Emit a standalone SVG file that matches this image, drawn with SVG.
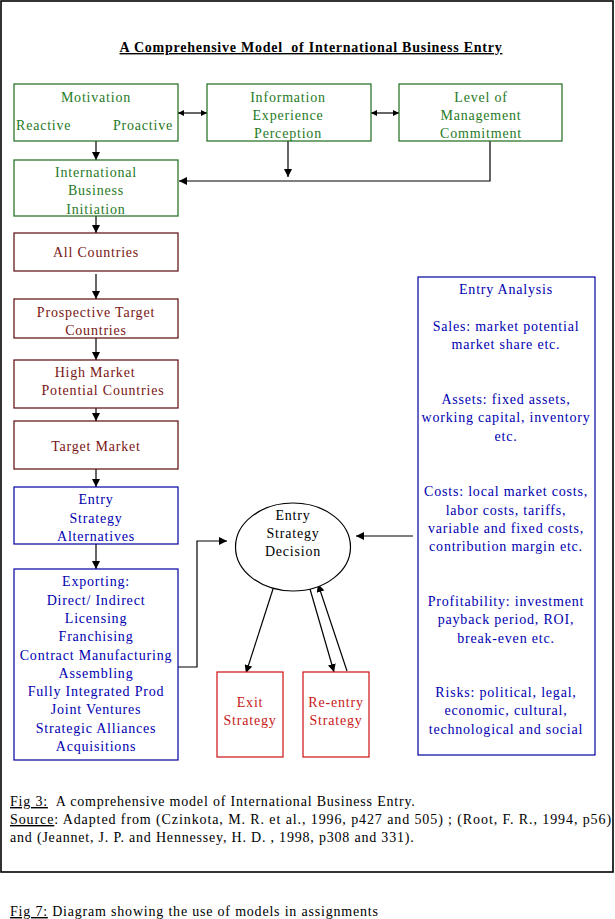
<svg xmlns="http://www.w3.org/2000/svg" width="615" height="919" viewBox="0 0 615 919">
<style>
text{font-family:"Liberation Serif","Times New Roman",serif;font-size:14px;text-anchor:middle;letter-spacing:0.8px}
.g rect{fill:#fff;stroke:#1c6b1c;stroke-width:1.2}
.g text{fill:#1f7a1f}
.r rect{fill:#fff;stroke:#5a0a0a;stroke-width:1.2}
.r text{fill:#7a1414}
.b rect{fill:#fff;stroke:#0000a0;stroke-width:1.2}
.b text{fill:#0000b0}
.x rect{fill:#fff;stroke:#cc1010;stroke-width:1.2}
.x text{fill:#c81818}
.k text{fill:#000}
#connectors line,#connectors polyline{stroke:#000;stroke-width:1.2;fill:none}
.l{text-anchor:start;fill:#000}
</style>
<defs>
<marker id="ah" viewBox="0 0 10 10" refX="10" refY="5" markerWidth="8" markerHeight="8" markerUnits="userSpaceOnUse" orient="auto-start-reverse">
<path d="M0,0 L10,5 L0,10 z" fill="#000"/>
</marker>
<marker id="as" viewBox="0 0 10 10" refX="10" refY="5" markerWidth="7" markerHeight="6" markerUnits="userSpaceOnUse" orient="auto-start-reverse">
<path d="M0,0 L10,5 L0,10 z" fill="#000"/>
</marker>
</defs>
<rect x="0" y="0" width="615" height="919" fill="#fff"/>
<rect id="frame" x="1" y="1" width="612" height="871" fill="none" stroke="#000" stroke-width="1.6"/>
<text x="311" y="52" font-weight="bold" text-decoration="underline" xml:space="preserve" style="letter-spacing:0.75px">A Comprehensive Model  of International Business Entry</text>

<g id="connectors">
<line x1="178" y1="113" x2="207" y2="113" marker-start="url(#as)" marker-end="url(#as)"/>
<line x1="371" y1="113" x2="399" y2="113" marker-start="url(#as)" marker-end="url(#as)"/>
<line x1="96" y1="141" x2="96" y2="160" marker-end="url(#ah)"/>
<line x1="288" y1="141" x2="288" y2="177" marker-end="url(#ah)"/>
<polyline points="490,141 490,181 179,181" marker-end="url(#ah)"/>
<line x1="96" y1="216" x2="96" y2="233" marker-end="url(#ah)"/>
<line x1="96" y1="274" x2="96" y2="299" marker-end="url(#ah)"/>
<line x1="96" y1="338" x2="96" y2="360" marker-end="url(#ah)"/>
<line x1="96" y1="408" x2="96" y2="421" marker-end="url(#ah)"/>
<line x1="96" y1="469" x2="96" y2="487" marker-end="url(#ah)"/>
<line x1="96" y1="544" x2="96" y2="569" marker-end="url(#ah)"/>
<polyline points="178,667 197,667 197,541 227,541" marker-end="url(#ah)"/>
<line x1="413" y1="536" x2="356" y2="536" marker-end="url(#ah)"/>
<line x1="273" y1="589" x2="246" y2="673" marker-end="url(#ah)"/>
<line x1="310" y1="589" x2="334" y2="672" marker-end="url(#ah)"/>
<line x1="347" y1="671" x2="318" y2="584" marker-end="url(#ah)"/>
</g>

<g id="motivation" class="g">
<rect x="14" y="84" width="164" height="57"/>
<text x="96" y="102">Motivation</text>
<text x="16" y="130" style="text-anchor:start">Reactive</text>
<text x="173" y="130" style="text-anchor:end">Proactive</text>
</g>
<g id="information" class="g">
<rect x="207" y="84" width="164" height="57"/>
<text x="288" y="102">Information</text>
<text x="288" y="120">Experience</text>
<text x="288" y="138">Perception</text>
</g>
<g id="commitment" class="g">
<rect x="399" y="84" width="163" height="57"/>
<text x="481" y="102">Level of</text>
<text x="481" y="120">Management</text>
<text x="481" y="138">Commitment</text>
</g>
<g id="initiation" class="g">
<rect x="14" y="160" width="164" height="56"/>
<text x="96" y="177">International</text>
<text x="96" y="195">Business</text>
<text x="96" y="214">Initiation</text>
</g>
<g id="allcountries" class="r">
<rect x="14" y="233" width="164" height="38"/>
<text x="96" y="257">All Countries</text>
</g>
<g id="prospective" class="r">
<rect x="14" y="299" width="164" height="39"/>
<text x="96" y="317">Prospective Target</text>
<text x="96" y="335">Countries</text>
</g>
<g id="highmarket" class="r">
<rect x="14" y="360" width="164" height="48"/>
<text x="95" y="377">High Market</text>
<text x="103" y="395">Potential Countries</text>
</g>
<g id="targetmarket" class="r">
<rect x="14" y="421" width="164" height="48"/>
<text x="96" y="451">Target Market</text>
</g>
<g id="alternatives" class="b">
<rect x="14" y="487" width="164" height="57"/>
<text x="96" y="504">Entry</text>
<text x="96" y="523">Strategy</text>
<text x="96" y="541">Alternatives</text>
</g>
<g id="modes" class="b">
<rect x="14" y="569" width="164" height="191"/>
<text x="96" y="586">Exporting:</text>
<text x="96" y="605">Direct/ Indirect</text>
<text x="96" y="623">Licensing</text>
<text x="96" y="641">Franchising</text>
<text x="96" y="660">Contract Manufacturing</text>
<text x="96" y="678">Assembling</text>
<text x="96" y="696">Fully Integrated Prod</text>
<text x="96" y="714">Joint Ventures</text>
<text x="96" y="733">Strategic Alliances</text>
<text x="96" y="751">Acquisitions</text>
</g>
<g id="decision" class="k">
<ellipse cx="293" cy="547" rx="57.5" ry="44" fill="#fff" stroke="#000" stroke-width="1.2"/>
<text x="293" y="520">Entry</text>
<text x="293" y="538">Strategy</text>
<text x="293" y="556">Decision</text>
</g>
<g id="exit" class="x">
<rect x="217" y="672" width="66" height="85"/>
<text x="250" y="707">Exit</text>
<text x="250" y="725">Strategy</text>
</g>
<g id="reentry" class="x">
<rect x="303" y="672" width="66" height="85"/>
<text x="336" y="707">Re-entry</text>
<text x="336" y="725">Strategy</text>
</g>
<g id="analysis" class="b">
<rect x="418" y="277" width="177" height="478"/>
<text x="506" y="294">Entry Analysis</text>
<text x="506" y="331">Sales: market potential</text>
<text x="506" y="349">market share etc.</text>
<text x="506" y="404">Assets: fixed assets,</text>
<text x="506" y="422">working capital, inventory</text>
<text x="506" y="441">etc.</text>
<text x="506" y="496">Costs: local market costs,</text>
<text x="506" y="515">labor costs, tariffs,</text>
<text x="506" y="533">variable and fixed costs,</text>
<text x="506" y="551">contribution margin etc.</text>
<text x="506" y="606">Profitability: investment</text>
<text x="506" y="624">payback period, ROI,</text>
<text x="506" y="643">break-even etc.</text>
<text x="506" y="697">Risks: political, legal,</text>
<text x="506" y="715">economic, cultural,</text>
<text x="506" y="734">technological and social</text>
</g>

<g id="caption">
<text class="l" x="10" y="806" xml:space="preserve"><tspan text-decoration="underline">Fig 3:</tspan>  A comprehensive model of International Business Entry.</text>
<text class="l" x="10" y="824" style="letter-spacing:0.9px"><tspan text-decoration="underline">Source</tspan>: Adapted from (Czinkota, M. R. et al., 1996, p427 and 505) ; (Root, F. R., 1994, p56)</text>
<text class="l" x="10" y="842">and (Jeannet, J. P. and Hennessey, H. D. , 1998, p308 and 331).</text>
<text class="l" x="10" y="916"><tspan text-decoration="underline">Fig 7:</tspan> Diagram showing the use of models in assignments</text>
</g>
</svg>
